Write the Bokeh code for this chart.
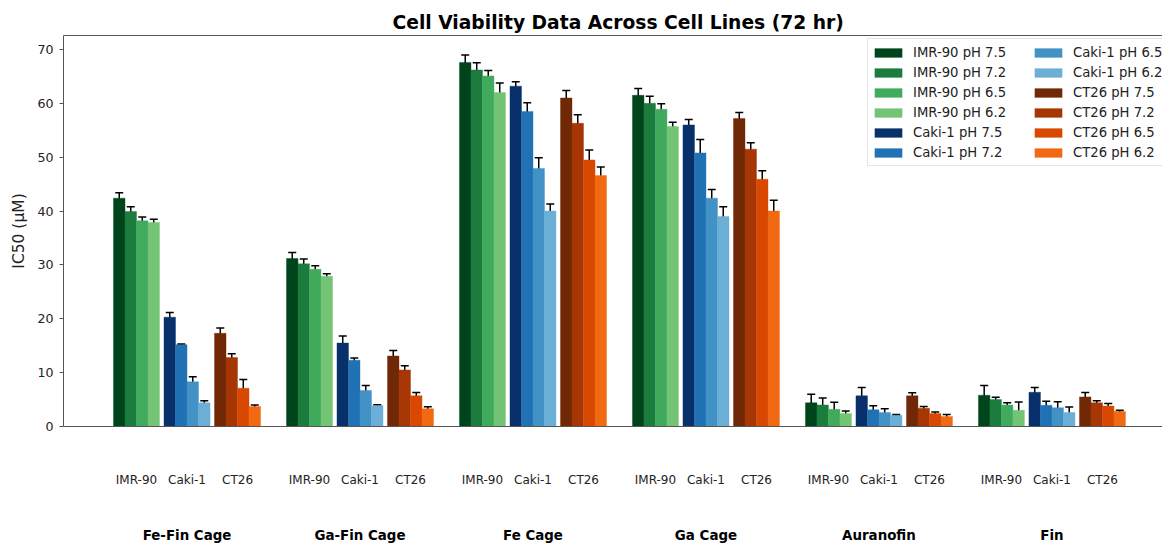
from bokeh.plotting import figure
from bokeh.models import (Range1d, FixedTicker, LinearAxis, Legend, LegendItem,
                          ColumnDataSource, Whisker, TeeHead)
from bokeh.embed import file_html
from bokeh.resources import INLINE

# ---- data -----------------------------------------------------------------
compounds = ["Fe-Fin Cage", "Ga-Fin Cage", "Fe Cage", "Ga Cage", "Auranofin", "Fin"]
cell_lines = ["IMR-90", "Caki-1", "CT26"]
ph_levels = ["7.5", "7.2", "6.5", "6.2"]
y_ticks = [0, 10, 20, 30, 40, 50, 60, 70]

# IC50 means (µM), one list per pH, in compound order
imr90_mean = {
    "7.5": [42.4, 31.2, 67.6, 61.5, 4.4, 5.8],
    "7.2": [39.9, 30.2, 66.2, 60.0, 4.0, 5.0],
    "6.5": [38.2, 29.2, 65.1, 58.9, 3.2, 4.0],
    "6.2": [37.9, 27.9, 62.0, 55.7, 2.4, 3.0],
}
caki1_mean = {
    "7.5": [20.3, 15.5, 63.2, 56.0, 5.7, 6.35],
    "7.2": [15.2, 12.3, 58.5, 50.8, 3.1, 3.95],
    "6.5": [8.3, 6.7, 47.9, 42.4, 2.6, 3.5],
    "6.2": [4.4, 3.9, 40.0, 39.0, 2.1, 2.6],
}
ct26_mean = {
    "7.5": [17.3, 13.1, 61.0, 57.2, 5.7, 5.5],
    "7.2": [12.8, 10.5, 56.3, 51.5, 3.4, 4.4],
    "6.5": [7.1, 5.7, 49.5, 45.9, 2.4, 3.8],
    "6.2": [3.7, 3.3, 46.6, 40.0, 1.85, 2.8],
}

# standard deviations
imr90_err = {
    "7.5": [1.0, 1.1, 1.4, 1.25, 1.6, 1.8],
    "7.2": [0.9, 0.9, 1.35, 1.3, 1.3, 0.45],
    "6.5": [0.7, 0.65, 1.0, 1.05, 1.3, 0.4],
    "6.2": [0.6, 0.45, 1.8, 0.8, 0.5, 1.55],
}
caki1_err = {
    "7.5": [0.85, 1.3, 0.8, 1.0, 1.55, 0.9],
    "7.2": [0.1, 0.4, 1.6, 2.5, 0.75, 0.75],
    "6.5": [0.95, 0.9, 2.0, 1.6, 0.7, 1.1],
    "6.2": [0.4, 0.15, 1.3, 1.8, 0.15, 1.0],
}
ct26_err = {
    "7.5": [1.0, 1.0, 1.4, 1.1, 0.55, 0.8],
    "7.2": [0.7, 0.8, 1.6, 1.2, 0.3, 0.4],
    "6.5": [1.65, 0.6, 1.85, 1.6, 0.3, 0.45],
    "6.2": [0.3, 0.35, 1.6, 2.0, 0.4, 0.2],
}

# ---- styling ----------------------------------------------------------------
palettes = {
    "IMR-90": ["#00441b", "#1b7c3d", "#41ab5d", "#74c476"],
    "Caki-1": ["#08306b", "#2171b5", "#4292c6", "#6baed6"],
    "CT26": ["#712806", "#a63603", "#d94801", "#f16913"],
}
FONT = "DejaVu Sans"
INK = "#222222"
FRAME = "#555555"
LINE_STEP = 0.292   # distance between cell-line clusters within a compound
BAR_W = 0.0665      # width of a single bar

means = {"IMR-90": imr90_mean, "Caki-1": caki1_mean, "CT26": ct26_mean}
errs = {"IMR-90": imr90_err, "Caki-1": caki1_err, "CT26": ct26_err}

p = figure(width=1162, height=545, output_backend="svg", toolbar_location=None,
           x_range=Range1d(-0.714, 5.639), y_range=Range1d(0, 72.6),
           x_axis_location=None,
           min_border_left=63, min_border_right=0, min_border_top=35,
           min_border_bottom=118)
p.grid.visible = False
p.outline_line_color = None
p.background_fill_color = "white"
p.border_fill_color = "white"

legend_items = []
for li, line in enumerate(cell_lines):
    for k, ph in enumerate(ph_levels):
        vals = means[line][ph]
        err = errs[line][ph]
        xs = [g + (li - 1) * LINE_STEP + (k - 1.5) * BAR_W for g in range(len(compounds))]
        src = ColumnDataSource(dict(
            x=xs, top=vals,
            upper=[v + e for v, e in zip(vals, err)],
            lower=[v - e for v, e in zip(vals, err)],
        ))
        color = palettes[line][k]
        r = p.vbar(x="x", top="top", width=BAR_W, source=src,
                   fill_color=color, line_color=color, line_width=0.4)
        p.add_layout(Whisker(base="x", upper="upper", lower="lower", source=src,
                             line_color="black", line_width=1.5,
                             upper_head=TeeHead(size=8, line_color="black", line_width=1.5),
                             lower_head=TeeHead(size=8, line_color="black", line_width=1.5)))
        legend_items.append(LegendItem(label=f"{line} pH {ph}", renderers=[r]))

# ---- axes ---------------------------------------------------------------------
yax = p.yaxis[0]
yax.ticker = FixedTicker(ticks=y_ticks)
yax.axis_label = "IC50 (μM)"
yax.axis_label_text_font = FONT
yax.axis_label_text_font_size = "15.5px"
yax.axis_label_text_font_style = "normal"
yax.axis_label_text_color = INK
yax.axis_label_standoff = 6
yax.major_label_text_font = FONT
yax.major_label_text_font_size = "12.6px"
yax.major_label_text_color = INK
yax.major_label_standoff = 6
yax.major_tick_out = 4
yax.major_tick_in = 0
yax.minor_tick_line_color = None
yax.axis_line_color = FRAME
yax.major_tick_line_color = FRAME

tick_pos = []
tick_names = {}
for g in range(len(compounds)):
    for li, line in enumerate(cell_lines):
        t = round(g + (li - 1) * LINE_STEP, 4)
        tick_pos.append(t)
        tick_names[t] = line

line_axis = LinearAxis(ticker=FixedTicker(ticks=tick_pos), major_label_overrides=tick_names,
                       major_tick_out=0, major_tick_in=0, major_tick_line_color=None,
                       minor_tick_line_color=None, axis_line_color=FRAME,
                       major_label_standoff=46, major_label_text_font=FONT,
                       major_label_text_font_size="12px", major_label_text_color=INK)
p.add_layout(line_axis, "below")

group_axis = LinearAxis(ticker=FixedTicker(ticks=list(range(len(compounds)))),
                        major_label_overrides={i: c for i, c in enumerate(compounds)},
                        major_tick_out=0, major_tick_in=0, major_tick_line_color=None,
                        minor_tick_line_color=None, axis_line_color=None,
                        major_label_standoff=38, major_label_text_font=FONT,
                        major_label_text_font_style="bold",
                        major_label_text_font_size="13.4px", major_label_text_color="black")
p.add_layout(group_axis, "below")

top_axis = LinearAxis(ticker=FixedTicker(ticks=[]), major_tick_out=0, major_tick_in=0,
                      major_label_standoff=0, major_tick_line_color=None,
                      minor_tick_line_color=None, axis_line_color=FRAME,
                      major_label_text_font_size="0px")
p.add_layout(top_axis, "above")

# ---- title ----------------------------------------------------------------------
p.title.text = "Cell Viability Data Across Cell Lines (72 hr)"
p.title.text_font = FONT
p.title.text_font_size = "18.7px"
p.title.text_font_style = "bold"
p.title.text_color = "black"
p.title.align = "left"
p.title.offset = 329
p.title.standoff = 6

# ---- legend ---------------------------------------------------------------------
legend = Legend(items=legend_items, location=(804, 260), ncols=2,
                label_text_font=FONT, label_text_font_size="13.2px",
                label_text_color=INK, label_height=20, label_width=118,
                label_standoff=8, glyph_width=34, glyph_height=11,
                spacing=0, padding=3, margin=0,
                background_fill_color="white", background_fill_alpha=0.85,
                border_line_color="#cccccc", border_line_width=1)
p.add_layout(legend, "center")

open("out.html", "w").write(file_html(p, INLINE))
